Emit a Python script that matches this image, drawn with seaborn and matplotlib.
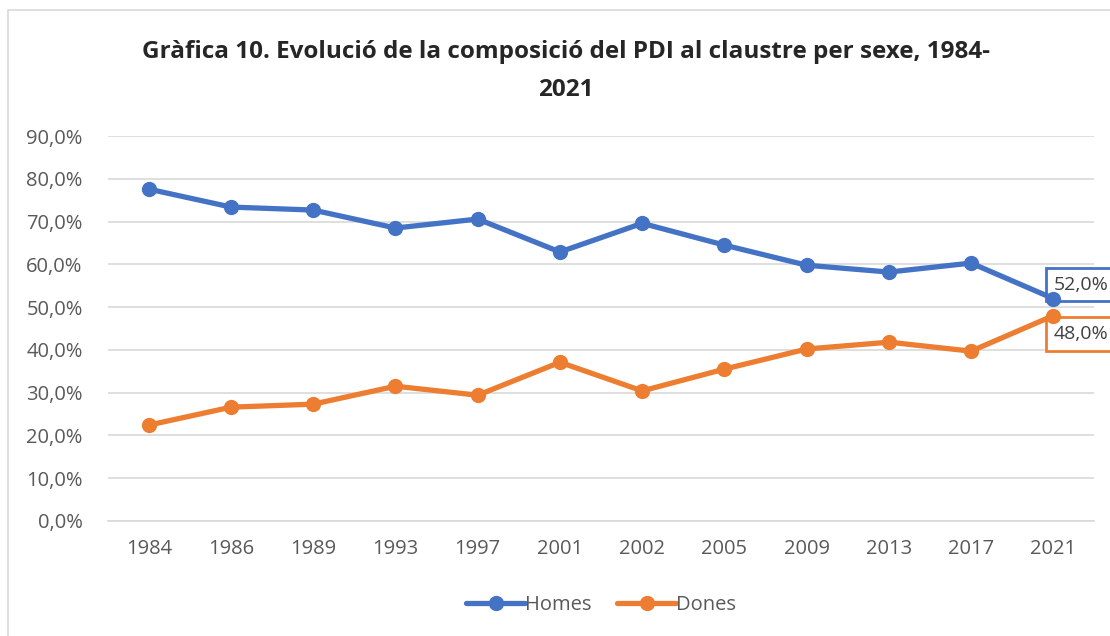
import pandas as pd
import matplotlib.pyplot as plt
import matplotlib.patches as mpatches
import seaborn as sns
from matplotlib.ticker import FuncFormatter

# Data
years = ['1984', '1986', '1989', '1993', '1997', '2001', '2002', '2005', '2009', '2013', '2017', '2021']
homes = [77.6, 73.4, 72.7, 68.5, 70.6, 62.9, 69.6, 64.5, 59.8, 58.2, 60.3, 52.0]
dones = [22.4, 26.6, 27.3, 31.5, 29.4, 37.1, 30.4, 35.5, 40.2, 41.8, 39.7, 48.0]

blue = '#4472C4'
orange = '#ED7D31'

df = pd.DataFrame({'year': years * 2,
                   'value': homes + dones,
                   'serie': ['Homes'] * len(years) + ['Dones'] * len(years)})

sns.set_style('white')
plt.rcParams['font.family'] = ['Open Sans', 'DejaVu Sans']

fig = plt.figure(figsize=(11.1, 6.36), dpi=100)
ax = fig.add_axes([0.097, 0.181, 0.889, 0.605])

# chart border
fig.patches.append(mpatches.Rectangle((8 / 1110, -0.05), 1.2, 1 - 10 / 636 + 0.05,
                                      transform=fig.transFigure, fill=False,
                                      edgecolor='#D9D9D9', linewidth=1.2))

sns.lineplot(data=df, x='year', y='value', hue='serie', palette=[blue, orange],
             marker='o', markersize=11, markeredgewidth=0, linewidth=3.8,
             sort=False, ax=ax, zorder=3)

ax.set_ylim(0, 90)
ax.set_yticks(range(0, 91, 10))
ax.yaxis.set_major_formatter(FuncFormatter(lambda v, p: f'{v:.1f}%'.replace('.', ',')))
ax.set_xlim(-0.5, len(years) - 0.5)
ax.grid(axis='y', color='#D9D9D9', linewidth=1.2)
ax.set_axisbelow(True)
for s in ['top', 'right', 'left']:
    ax.spines[s].set_visible(False)
ax.spines['bottom'].set_color('#D9D9D9')
ax.spines['bottom'].set_linewidth(1.2)
ax.tick_params(axis='both', length=0, labelsize=14.5, labelcolor='#595959')
ax.tick_params(axis='y', pad=18)
ax.tick_params(axis='x', pad=13)
ax.set_xlabel('')
ax.set_ylabel('')

# data labels for last point (drawn under the markers)
last = len(years) - 1
ax.annotate(f'{homes[-1]:.1f}%'.replace('.', ','), (last, homes[-1]), xytext=(0, 10),
            textcoords='offset points', fontsize=14, color='#404040', va='center',
            zorder=2.5, bbox=dict(boxstyle='square,pad=0.4', fc='white', ec=blue, lw=2))
ax.annotate(f'{dones[-1]:.1f}%'.replace('.', ','), (last, dones[-1]), xytext=(0, -13),
            textcoords='offset points', fontsize=14, color='#404040', va='center',
            zorder=2.5, bbox=dict(boxstyle='square,pad=0.4', fc='white', ec=orange, lw=2))

ax.legend(loc='center', bbox_to_anchor=(0.5, -0.219), ncol=2, frameon=False,
          fontsize=14.5, labelcolor='#595959', handlelength=2.9, columnspacing=1.3,
          handletextpad=0.0)

fig.text(0.51, 0.937, 'Gràfica 10. Evolució de la composició del PDI al claustre per sexe, 1984-\n2021',
         ha='center', va='top', fontsize=17.5, fontweight='bold', linespacing=1.75)

fig.savefig('out.png', dpi=100)
